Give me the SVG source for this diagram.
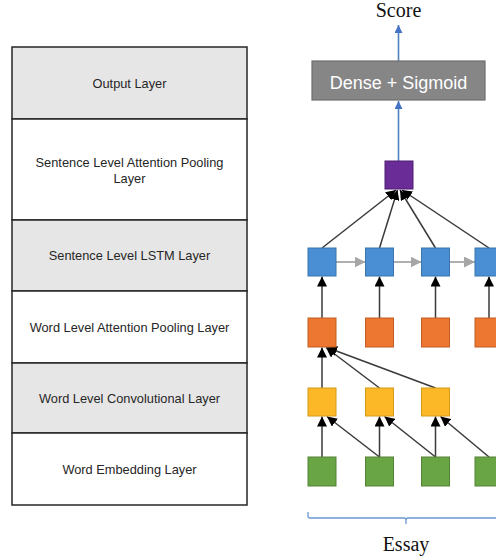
<svg xmlns="http://www.w3.org/2000/svg" width="496" height="558" viewBox="0 0 496 558">
  <style>
    .row { stroke: #262626; stroke-width: 1.5; }
    .shaded { fill: #E7E6E6; }
    .plain { fill: #FFFFFF; }
    .lbl { font-family: "Liberation Sans", Arial, sans-serif; font-size: 12.8px; fill: #262626; text-anchor: middle; }
    .serif { font-family: "Liberation Serif", "Times New Roman", serif; font-size: 20px; fill: #111; text-anchor: middle; }
    .edge { stroke: #3A3A3A; stroke-width: 1.5; fill: none; }
    .blue-edge { stroke: #4F81BD; stroke-width: 1.6; fill: none; }
    .gray-edge { stroke: #A6A6A6; stroke-width: 1.8; fill: none; }
    .blue { fill: #4A8FD3; stroke: #3B75AE; stroke-width: 1; }
    .orange { fill: #ED7631; stroke: #C25E22; stroke-width: 1; }
    .yellow { fill: #FDB827; stroke: #D49A1A; stroke-width: 1; }
    .green { fill: #69A445; stroke: #528436; stroke-width: 1; }
    .purple { fill: #6A2C97; stroke: #4E1F73; stroke-width: 1; }
  </style>
  <defs>
    <marker id="ah" viewBox="0 0 10 10" refX="10" refY="5" markerWidth="10" markerHeight="10" markerUnits="userSpaceOnUse" orient="auto">
      <path d="M0,0 L10,5 L0,10 z" fill="#000"/>
    </marker>
    <marker id="ah-blue" viewBox="0 0 10 10" refX="10" refY="5" markerWidth="8" markerHeight="8" markerUnits="userSpaceOnUse" orient="auto">
      <path d="M0,0 L10,5 L0,10 z" fill="#4472C4"/>
    </marker>
    <marker id="ah-gray" viewBox="0 0 10 10" refX="10" refY="5" markerWidth="11" markerHeight="11" markerUnits="userSpaceOnUse" orient="auto">
      <path d="M0,0 L10,5 L0,10 z" fill="#A6A6A6"/>
    </marker>
  </defs>

  <!-- layer table -->
  <g id="layer-output">
    <rect class="row shaded" x="12" y="47" width="235" height="72"/>
    <text class="lbl" x="129.5" y="88">Output Layer</text>
  </g>
  <g id="layer-sentence-attention">
    <rect class="row plain" x="12" y="119" width="235" height="101"/>
    <text class="lbl" x="129.5" y="166.5">Sentence Level Attention Pooling</text>
    <text class="lbl" x="129.5" y="182.5">Layer</text>
  </g>
  <g id="layer-sentence-lstm">
    <rect class="row shaded" x="12" y="220" width="235" height="71"/>
    <text class="lbl" x="129.5" y="260">Sentence Level LSTM Layer</text>
  </g>
  <g id="layer-word-attention">
    <rect class="row plain" x="12" y="291" width="235" height="72"/>
    <text class="lbl" x="129.5" y="331.5">Word Level Attention Pooling Layer</text>
  </g>
  <g id="layer-word-conv">
    <rect class="row shaded" x="12" y="363" width="235" height="70"/>
    <text class="lbl" x="129.5" y="402.5">Word Level Convolutional Layer</text>
  </g>
  <g id="layer-word-embedding">
    <rect class="row plain" x="12" y="433" width="235" height="72"/>
    <text class="lbl" x="129.5" y="473.5">Word Embedding Layer</text>
  </g>

  <!-- connectors -->
  <g id="connectors">
    <!-- output arrows -->
    <line class="blue-edge" x1="398.5" y1="61" x2="398.5" y2="25" marker-end="url(#ah-blue)"/>
    <line class="blue-edge" x1="398.5" y1="161" x2="398.5" y2="101" marker-end="url(#ah-blue)"/>
    <!-- sentence states into attention pooling -->
    <line class="edge" x1="322" y1="248" x2="396" y2="190" marker-end="url(#ah)"/>
    <line class="edge" x1="379.5" y1="248" x2="397.5" y2="190" marker-end="url(#ah)"/>
    <line class="edge" x1="435.5" y1="248" x2="400" y2="190" marker-end="url(#ah)"/>
    <line class="edge" x1="489" y1="248" x2="402" y2="190" marker-end="url(#ah)"/>
    <!-- LSTM recurrence -->
    <line class="gray-edge" x1="336" y1="262" x2="365.5" y2="262" marker-end="url(#ah-gray)"/>
    <line class="gray-edge" x1="393.5" y1="262" x2="421.5" y2="262" marker-end="url(#ah-gray)"/>
    <line class="gray-edge" x1="449.5" y1="262" x2="475" y2="262" marker-end="url(#ah-gray)"/>
    <!-- word attention into LSTM -->
    <line class="edge" x1="322" y1="318" x2="322" y2="276.5" marker-end="url(#ah)"/>
    <line class="edge" x1="379.5" y1="318" x2="379.5" y2="276.5" marker-end="url(#ah)"/>
    <line class="edge" x1="435.5" y1="318" x2="435.5" y2="276.5" marker-end="url(#ah)"/>
    <line class="edge" x1="489" y1="318" x2="489" y2="276.5" marker-end="url(#ah)"/>
    <!-- convolution outputs into word attention -->
    <line class="edge" x1="322" y1="388" x2="322" y2="347.5" marker-end="url(#ah)"/>
    <line class="edge" x1="379.5" y1="388" x2="326" y2="347.5" marker-end="url(#ah)"/>
    <line class="edge" x1="435.5" y1="388" x2="327" y2="347.5" marker-end="url(#ah)"/>
    <!-- embeddings into convolution -->
    <line class="edge" x1="322" y1="457" x2="322" y2="416.5" marker-end="url(#ah)"/>
    <line class="edge" x1="379.5" y1="457" x2="327" y2="416.5" marker-end="url(#ah)"/>
    <line class="edge" x1="379.5" y1="457" x2="379.5" y2="416.5" marker-end="url(#ah)"/>
    <line class="edge" x1="435.5" y1="457" x2="384.5" y2="416.5" marker-end="url(#ah)"/>
    <line class="edge" x1="435.5" y1="457" x2="435.5" y2="416.5" marker-end="url(#ah)"/>
    <line class="edge" x1="489" y1="457" x2="440.5" y2="416.5" marker-end="url(#ah)"/>
  </g>

  <!-- dense output block -->
  <g id="dense">
    <rect x="312" y="61" width="173" height="39" fill="#868686" stroke="#6E6E6E" stroke-width="1.2"/>
    <text x="398.5" y="89" font-family="Liberation Sans, Arial, sans-serif" font-size="18" fill="#FFFFFF" text-anchor="middle">Dense + Sigmoid</text>
  </g>
  <g id="score">
    <text class="serif" x="398.5" y="17">Score</text>
  </g>

  <!-- sentence attention pooling -->
  <g id="pool-sentence">
    <rect class="purple" x="385" y="161" width="28" height="28"/>
  </g>

  <!-- sentence LSTM states -->
  <g id="lstm-1"><rect class="blue" x="308" y="248" width="28" height="28"/></g>
  <g id="lstm-2"><rect class="blue" x="365.5" y="248" width="28" height="28"/></g>
  <g id="lstm-3"><rect class="blue" x="421.5" y="248" width="28" height="28"/></g>
  <g id="lstm-4"><rect class="blue" x="475" y="248" width="28" height="28"/></g>

  <!-- word attention pooling -->
  <g id="wpool-1"><rect class="orange" x="308" y="318" width="28" height="29"/></g>
  <g id="wpool-2"><rect class="orange" x="365.5" y="318" width="28" height="29"/></g>
  <g id="wpool-3"><rect class="orange" x="421.5" y="318" width="28" height="29"/></g>
  <g id="wpool-4"><rect class="orange" x="475" y="318" width="28" height="29"/></g>

  <!-- convolution -->
  <g id="conv-1"><rect class="yellow" x="308" y="388" width="28" height="28"/></g>
  <g id="conv-2"><rect class="yellow" x="365.5" y="388" width="28" height="28"/></g>
  <g id="conv-3"><rect class="yellow" x="421.5" y="388" width="28" height="28"/></g>

  <!-- word embeddings -->
  <g id="embed-1"><rect class="green" x="308" y="457" width="28" height="29"/></g>
  <g id="embed-2"><rect class="green" x="365.5" y="457" width="28" height="29"/></g>
  <g id="embed-3"><rect class="green" x="421.5" y="457" width="28" height="29"/></g>
  <g id="embed-4"><rect class="green" x="475" y="457" width="28" height="29"/></g>

  <!-- essay brace -->
  <g id="essay">
    <path d="M308,512 L308,516 Q308,518 310,518 L404,518 Q406,518 406,520 L406,524 M406,520 Q406,518 408,518 L498,518" fill="none" stroke="#6A97CF" stroke-width="1.3"/>
    <text class="serif" x="406" y="551">Essay</text>
  </g>
</svg>
